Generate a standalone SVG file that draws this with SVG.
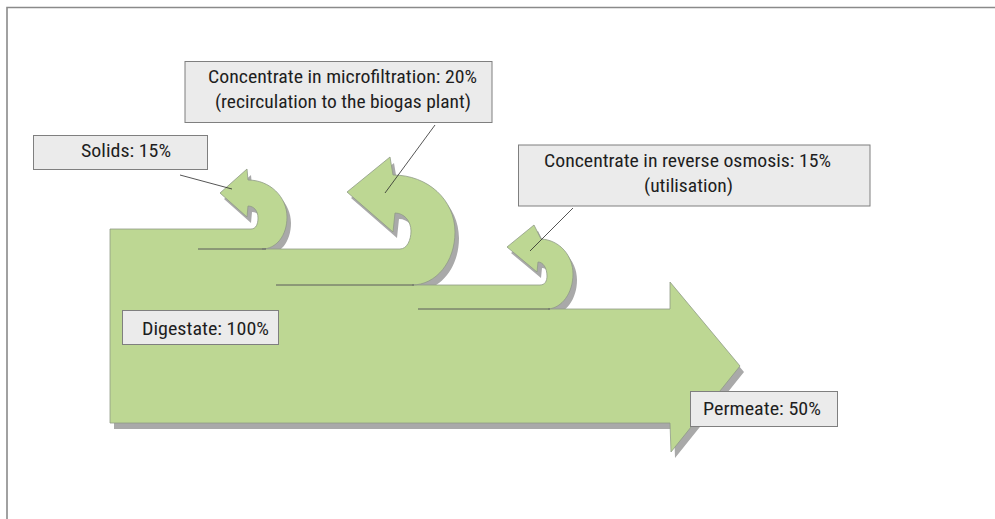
<svg xmlns="http://www.w3.org/2000/svg" width="995" height="519" viewBox="0 0 995 519">
<style>
.frame{fill:none;stroke:#8a8a8a;stroke-width:1.6}
.flow{fill:#bdd793;stroke:#8f9a86;stroke-width:0.8;stroke-linejoin:round}
.shadow{fill:#a9a9a9}
.sep{stroke:#5a5a5a;stroke-width:1;fill:none}
.box{fill:#ebebeb;stroke:#7f7f7f;stroke-width:1}
.lbl{font-family:"Liberation Sans Narrow","Roboto Condensed","DejaVu Sans Condensed","Liberation Sans",sans-serif;font-stretch:condensed;font-size:17.5px;fill:#1e1e1e}
.lead{stroke:#2a2a2a;stroke-width:0.8;fill:none}
</style>
<defs>
<path id="flowPath" d="M110,229 L251,229 C256,229 258,224 258,218 C258,211 254,206 248,206 L247,217 L220,193 L247,169 L248,180 C270,180 287,197 287,217 C287,236 276,249 262,249 L400,249 C407,249 411,240 411,231 C411,221 404,213 395,213 L393,232 L347,192 L390,157 L393,175 C428,175 455,200 455,232 C455,262 436,285 412,285 L540,285 C545,285 547,281 547,276 C547,268 543,262 538,262 L537,272 L507,247 L534,225 L541,239 C560,240 573,256 573,274 C573,293 562,308 548,309 L670,309 L670,282 L740,366 L671,452 L670,423 L110,423 Z"/>
</defs>
<rect x="0" y="0" width="995" height="519" fill="#ffffff"/>
<path class="frame" d="M7,519 L7,7.5 L995,7.5"/>
<g id="flow">
<use href="#flowPath" class="shadow" transform="translate(4,6)"/>
<use href="#flowPath" class="flow"/>
<line class="sep" x1="198" y1="249" x2="266" y2="249"/>
<line class="sep" x1="276" y1="285" x2="414" y2="285"/>
<line class="sep" x1="418" y1="309" x2="550" y2="309"/>
</g>
<g id="connectors">
<line class="lead" x1="180" y1="175" x2="232" y2="189"/>
<line class="lead" x1="435" y1="125" x2="385" y2="193"/>
<line class="lead" x1="573" y1="208" x2="530" y2="251"/>
</g>
<g id="label-solids">
<rect class="box" x="33.5" y="135.5" width="174" height="34"/>
<text class="lbl" x="81" y="157" textLength="90" lengthAdjust="spacingAndGlyphs">Solids: 15%</text>
</g>
<g id="label-microfiltration">
<rect class="box" x="185" y="61.5" width="307" height="61"/>
<text class="lbl" x="208" y="83" textLength="269" lengthAdjust="spacingAndGlyphs">Concentrate in microfiltration: 20%</text>
<text class="lbl" x="215" y="108" textLength="256" lengthAdjust="spacingAndGlyphs">(recirculation to the biogas plant)</text>
</g>
<g id="label-reverse-osmosis">
<rect class="box" x="518.5" y="145" width="351.5" height="61"/>
<text class="lbl" x="544" y="167" textLength="287" lengthAdjust="spacingAndGlyphs">Concentrate in reverse osmosis: 15%</text>
<text class="lbl" x="644" y="192" textLength="89" lengthAdjust="spacingAndGlyphs">(utilisation)</text>
</g>
<g id="label-digestate">
<rect class="box" x="122.5" y="310.5" width="156" height="34"/>
<text class="lbl" x="142" y="335" textLength="127" lengthAdjust="spacingAndGlyphs">Digestate: 100%</text>
</g>
<g id="label-permeate">
<rect class="box" x="690.5" y="391.5" width="147" height="35"/>
<text class="lbl" x="703" y="415" textLength="118" lengthAdjust="spacingAndGlyphs">Permeate: 50%</text>
</g>
</svg>
